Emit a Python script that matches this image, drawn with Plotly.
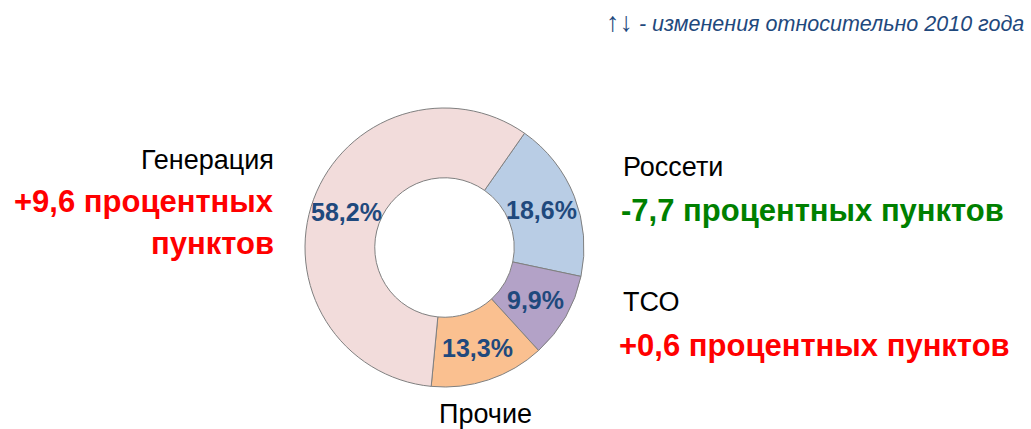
import numpy as np
import plotly.graph_objects as go

categories = ["Россети", "ТСО", "Прочие", "Генерация"]
values = [18.6, 9.9, 13.3, 58.2]
value_labels = ["18,6%", "9,9%", "13,3%", "58,2%"]
colors = ["#B9CDE5", "#B3A2C7", "#FAC090", "#F2DCDB"]

changes = {"Генерация": "+9,6 процентных<br>пунктов",
           "Россети": "-7,7 процентных пунктов",
           "ТСО": "+0,6 процентных пунктов"}

FONT = "Liberation Sans Narrow, Arial Narrow, Liberation Sans, Arial, sans-serif"
W, H = 1031, 429
ROTATION = 35
HOLE = 0.5

# pie geometry (pixels)
x0, x1, y0, y1 = 305, 584, 108, 387
cx, cy = (x0 + x1) / 2, (y0 + y1) / 2
R = (x1 - x0) / 2

fig = go.Figure(go.Pie(
    labels=categories,
    values=values,
    textinfo="none",
    sort=False,
    direction="clockwise",
    rotation=ROTATION,
    hole=HOLE,
    marker=dict(colors=colors, line=dict(color="#808080", width=1)),
    domain=dict(x=[x0 / W, x1 / W], y=[(H - y1) / H, (H - y0) / H]),
    showlegend=False,
    hoverinfo="label+percent",
))

ann = []
def add(text, x, y, xanchor, color, size, bold=False, italic=False, family=FONT):
    ann.append(dict(
        text=text, x=x / W, y=1 - y / H, xref="paper", yref="paper",
        xanchor=xanchor, yanchor="middle", showarrow=False,
        align=xanchor if xanchor != "center" else "center",
        font=dict(family=family, size=size, color=color,
                  weight="bold" if bold else "normal",
                  style="italic" if italic else "normal"),
    ))

# value labels at the middle of each ring slice (derived from the data)
total = sum(values)
start = ROTATION
rmid = R * (1 + HOLE) / 2
for v, lab in zip(values, value_labels):
    span = v / total * 360
    mid = np.deg2rad(start + span / 2)
    add(lab, cx + rmid * np.sin(mid), cy - rmid * np.cos(mid) + 1, "center",
        "#1F497D", 25, bold=True)
    start += span

add("Генерация", 276, 160, "right", "#000000", 27)
add("+9,6 процентных", 276, 201, "right", "#FF0000", 31, bold=True)
add("пунктов", 276, 243, "right", "#FF0000", 31, bold=True)
add("Россети", 621, 167, "left", "#000000", 27)
add(changes["Россети"], 619, 210, "left", "#008000", 31, bold=True)
add("ТСО", 621, 302, "left", "#000000", 27)
add(changes["ТСО"], 617, 345, "left", "#FF0000", 31, bold=True)
add("Прочие", 485, 414, "center", "#000000", 27)
add("<span style='font-size:27px'>↑↓</span> - изменения относительно 2010 года",
    1026, 22, "right", "#1F497D", 21.5,
    italic=True, family="Liberation Sans, Arial, sans-serif")

fig.update_layout(
    width=W, height=H,
    margin=dict(l=0, r=0, t=0, b=0),
    paper_bgcolor="white",
    plot_bgcolor="white",
    annotations=ann,
)

fig.write_html("out.html", config={"displayModeBar": False},
               post_script="document.body.style.margin='0';")
